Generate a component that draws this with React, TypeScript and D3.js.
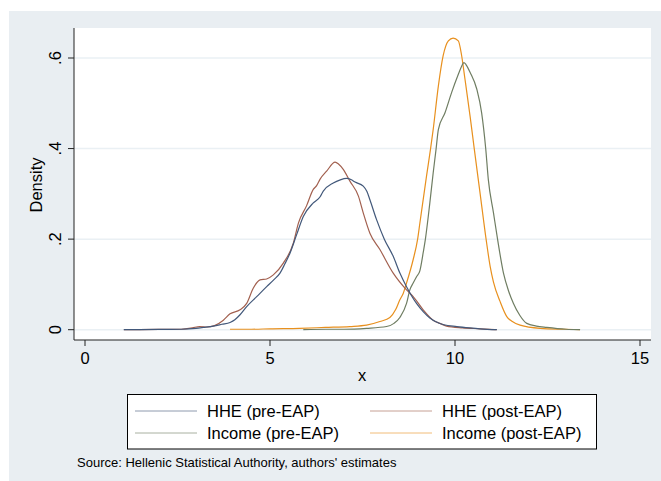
import React from "react";
import * as d3 from "d3";

type Pt = [number, number];

const hhePre: Pt[] = [
  [1.05, 0], [2.0, 0.0005], [2.6, 0.001], [3.0, 0.003], [3.2, 0.005], [3.47, 0.008],
  [3.7, 0.012], [3.92, 0.016], [4.05, 0.022], [4.19, 0.033], [4.37, 0.051], [4.64, 0.073],
  [4.91, 0.095], [5.1, 0.11], [5.27, 0.125], [5.4, 0.145], [5.54, 0.169], [5.72, 0.21],
  [5.9, 0.25], [6.17, 0.28], [6.35, 0.293], [6.44, 0.306], [6.71, 0.324], [6.9, 0.331],
  [7.07, 0.334], [7.2, 0.331], [7.3, 0.326], [7.52, 0.317], [7.62, 0.305], [7.7, 0.287],
  [7.88, 0.243], [8.09, 0.2], [8.33, 0.162], [8.51, 0.125], [8.69, 0.095], [8.96, 0.058],
  [9.14, 0.04], [9.32, 0.026], [9.5, 0.017], [9.7, 0.011], [10.05, 0.007], [10.4, 0.004],
  [10.68, 0.002], [11.13, 0],
];

const hhePost: Pt[] = [
  [1.05, 0], [2.0, 0.0005], [2.6, 0.001], [2.9, 0.004], [3.1, 0.007], [3.3, 0.006],
  [3.5, 0.009], [3.74, 0.021], [3.92, 0.035], [4.19, 0.044], [4.37, 0.058], [4.55, 0.092],
  [4.73, 0.11], [4.91, 0.112], [5.09, 0.121], [5.36, 0.147], [5.63, 0.191], [5.77, 0.236],
  [5.99, 0.274], [6.17, 0.31], [6.26, 0.318], [6.35, 0.332], [6.53, 0.35], [6.76, 0.37],
  [6.85, 0.366], [6.98, 0.354], [7.16, 0.328], [7.39, 0.295], [7.52, 0.258], [7.7, 0.213],
  [7.97, 0.177], [8.33, 0.125], [8.69, 0.088], [8.87, 0.073], [9.14, 0.044], [9.41, 0.021],
  [9.59, 0.014], [9.77, 0.008], [10.2, 0.004], [10.68, 0.002], [11.13, 0],
];

const incomePre: Pt[] = [
  [5.9, 0], [6.5, 0.001], [7.0, 0.001], [7.61, 0.003], [8.15, 0.007], [8.35, 0.014],
  [8.51, 0.027], [8.69, 0.058], [8.78, 0.088], [8.87, 0.103], [8.96, 0.117], [9.05, 0.13],
  [9.14, 0.17], [9.2, 0.2], [9.32, 0.28], [9.41, 0.346], [9.49, 0.4], [9.55, 0.442],
  [9.73, 0.479], [9.91, 0.524], [10.09, 0.564], [10.17, 0.58], [10.24, 0.59], [10.3, 0.585],
  [10.41, 0.568], [10.59, 0.531], [10.72, 0.479], [10.83, 0.4], [10.9, 0.332], [11.04, 0.258],
  [11.15, 0.2], [11.31, 0.125], [11.45, 0.085], [11.58, 0.058], [11.75, 0.032], [11.94, 0.014],
  [12.2, 0.008], [12.48, 0.005], [13.0, 0.001], [13.38, 0],
];

const incomePost: Pt[] = [
  [3.92, 0.001], [4.5, 0.001], [5.0, 0.002], [5.8, 0.003], [6.5, 0.005], [7.16, 0.007],
  [7.61, 0.01], [7.97, 0.018], [8.24, 0.027], [8.4, 0.045], [8.51, 0.066], [8.6, 0.08],
  [8.69, 0.103], [8.87, 0.155], [8.99, 0.2], [9.05, 0.235], [9.23, 0.339], [9.34, 0.4],
  [9.41, 0.442], [9.55, 0.538], [9.68, 0.605], [9.82, 0.638], [9.95, 0.644], [10.09, 0.638],
  [10.18, 0.605], [10.27, 0.553], [10.41, 0.47], [10.52, 0.4], [10.68, 0.3], [10.84, 0.2],
  [10.95, 0.14], [11.04, 0.105], [11.22, 0.062], [11.4, 0.029], [11.55, 0.018], [11.76, 0.01],
  [12.3, 0.003], [13.0, 0.001], [13.38, 0],
];

const seriesNames = ["HHE (pre-EAP)", "HHE (post-EAP)", "Income (pre-EAP)", "Income (post-EAP)"];
const seriesColors = ["#42587a", "#a2604f", "#6f7d62", "#e8901e"];
const seriesData = [hhePre, hhePost, incomePre, incomePost];

const xTicks = [0, 5, 10, 15];
const yTicks = [0, 0.2, 0.4, 0.6];
const yTickLabels = ["0", ".2", ".4", ".6"];

const W = 661;
const H = 481;
const plot = { left: 74, right: 651, top: 28, bottom: 340 };
const FONT = "'Liberation Sans', Arial, Helvetica, sans-serif";

export default function App() {
  const x = d3.scaleLinear().domain([0, 15]).range([85, 640]);
  const y = d3.scaleLinear().domain([0, 0.6]).range([329.7, 58]);
  const line = d3
    .line<Pt>()
    .x((d) => x(d[0]))
    .y((d) => y(d[1]))
    .curve(d3.curveMonotoneX);

  // draw order: income curves first, HHE curves on top
  const order = [3, 2, 1, 0];

  const legendRows = [
    [0, 1],
    [2, 3],
  ];

  return (
    <svg
      width={W}
      height={H}
      style={{ position: "absolute", left: 0, top: 0, fontFamily: FONT }}
    >
      <rect x={0} y={0} width={W} height={H} fill="#ffffff" />
      <rect x={9} y={11} width={W - 9} height={H - 11} fill="#e9eef2" />
      <rect
        x={plot.left}
        y={plot.top}
        width={plot.right - plot.left}
        height={plot.bottom - plot.top}
        fill="#ffffff"
      />

      {/* horizontal grid */}
      {yTicks.map((t) => (
        <line
          key={"g" + t}
          x1={plot.left}
          x2={plot.right}
          y1={y(t)}
          y2={y(t)}
          stroke="#eaf0f4"
          strokeWidth={1.5}
        />
      ))}

      {/* density curves */}
      {order.map((i) => (
        <path
          key={seriesNames[i]}
          d={line(seriesData[i]) || ""}
          fill="none"
          stroke={seriesColors[i]}
          strokeWidth={1.2}
          strokeLinejoin="round"
        />
      ))}

      {/* axes */}
      <line x1={plot.left} x2={plot.left} y1={plot.top} y2={plot.bottom} stroke="#222" strokeWidth={1} />
      <line x1={plot.left} x2={plot.right} y1={plot.bottom} y2={plot.bottom} stroke="#222" strokeWidth={1} />

      {yTicks.map((t, i) => (
        <g key={"yt" + t}>
          <line x1={plot.left - 6} x2={plot.left} y1={y(t)} y2={y(t)} stroke="#222" strokeWidth={1} />
          <text
            transform={`translate(61,${y(t)}) rotate(-90)`}
            textAnchor="middle"
            fontSize={16.5}
            fill="#000"
          >
            {yTickLabels[i]}
          </text>
        </g>
      ))}

      {xTicks.map((t) => (
        <g key={"xt" + t}>
          <line x1={x(t)} x2={x(t)} y1={plot.bottom} y2={plot.bottom + 6} stroke="#222" strokeWidth={1} />
          <text x={x(t)} y={364} textAnchor="middle" fontSize={16.5} fill="#000">
            {t}
          </text>
        </g>
      ))}

      <text transform="translate(42,185) rotate(-90)" textAnchor="middle" fontSize={16.5} fill="#000">
        Density
      </text>
      <text x={362} y={381} textAnchor="middle" fontSize={16.5} fill="#000">
        x
      </text>

      {/* legend */}
      <rect x={127.5} y={394.5} width={469} height={54.5} fill="#ffffff" stroke="#000" strokeWidth={1} />
      {legendRows.map((row, r) =>
        row.map((si, c) => {
          const cy = 411 + r * 22;
          const lx = c === 0 ? 135 : 370;
          return (
            <g key={"lg" + si}>
              <line
                x1={lx}
                x2={lx + 62}
                y1={cy}
                y2={cy}
                stroke={seriesColors[si]}
                strokeWidth={1}
                strokeOpacity={0.6}
              />
              <text x={lx + 72} y={cy + 6} fontSize={16.5} fill="#000">
                {seriesNames[si]}
              </text>
            </g>
          );
        })
      )}

      <text x={77} y={467} fontSize={13} fill="#000">
        Source: Hellenic Statistical Authority, authors' estimates
      </text>
    </svg>
  );
}
